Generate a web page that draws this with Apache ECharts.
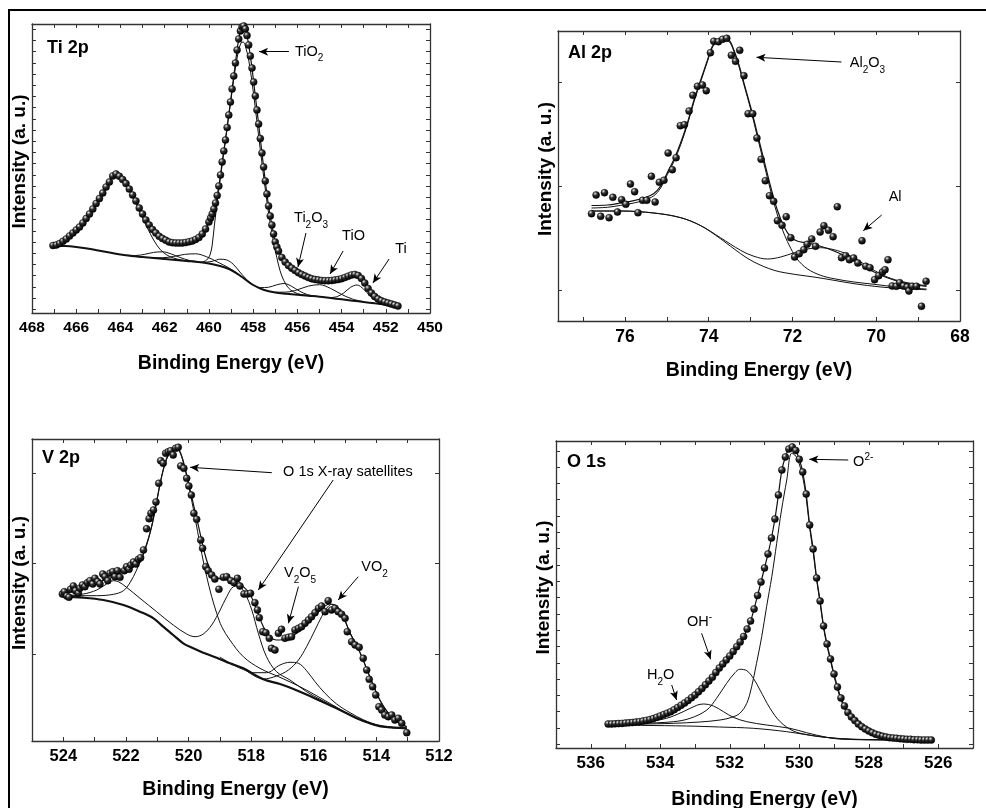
<!DOCTYPE html>
<html><head><meta charset="utf-8">
<script src="https://cdn.jsdelivr.net/npm/echarts@6/dist/echarts.min.js"></script>
<style>html,body{margin:0;padding:0;background:#fff}#c{width:986px;height:808px}</style>
</head><body><div id="c"></div>
<script>
// ---------- Ti 2p (binding energy eV, intensity a.u.) ----------
const tiPoints = [[467.05,67.5],[466.90,68],[466.75,69.5],[466.60,71.7],[466.45,74],[466.30,77],[466.15,80],[466.00,83],[465.85,86],[465.70,90],[465.55,94.5],[465.40,99],[465.25,104],[465.10,109.5],[464.95,114.5],[464.80,120],[464.65,126],[464.50,131],[464.35,137],[464.20,139],[464.05,136.7],[463.90,133.5],[463.75,129.5],[463.60,124],[463.45,118],[463.30,112],[463.15,105],[463.00,99],[462.85,93],[462.70,88],[462.55,83.5],[462.40,80],[462.25,76.7],[462.10,74.5],[461.95,72.8],[461.80,71],[461.65,70.3],[461.50,70],[461.35,70],[461.20,70],[461.05,70.5],[460.90,71.2],[460.75,72],[460.60,73.5],[460.45,75.5],[460.30,79],[460.15,84],[460.00,91],[459.925,95],[459.85,99],[459.775,104],[459.70,110],[459.625,117.5],[459.55,127],[459.475,138],[459.40,151],[459.325,162],[459.25,173],[459.175,185.5],[459.10,198],[459.025,211],[458.95,224],[458.875,237],[458.80,250],[458.725,263],[458.65,274],[458.575,282],[458.50,286],[458.425,287],[458.35,284],[458.275,277.5],[458.20,268],[458.125,257],[458.05,245],[457.975,231],[457.90,217],[457.825,203],[457.75,189],[457.675,174.5],[457.60,160],[457.525,146],[457.45,132],[457.375,119],[457.30,107],[457.225,97],[457.15,88],[457.075,79],[457.00,71],[456.925,66],[456.85,62],[456.70,55.5],[456.55,51],[456.40,47.5],[456.25,44.8],[456.10,42.5],[455.95,40.3],[455.80,38.5],[455.65,37],[455.50,35.5],[455.35,34.3],[455.20,33.5],[455.05,33],[454.90,32.5],[454.75,32.3],[454.60,32.3],[454.45,32.5],[454.30,33],[454.15,33.5],[454.00,34.3],[453.85,35.5],[453.70,36.8],[453.55,38],[453.40,38.5],[453.25,37.5],[453.10,34.5],[452.95,30],[452.80,24.5],[452.65,20],[452.50,16.5],[452.35,14],[452.20,12.2],[452.05,11],[451.90,10],[451.75,9],[451.60,8],[451.45,7]];
const tiBackground = [[467.07,67.3],[466.5,67],[466,66],[465.5,64.5],[465,62.5],[464.5,60.5],[464,58.5],[463.5,57],[463,56],[462.5,55],[462,54],[461.5,53],[461,52],[460.5,51],[460,49.5],[459.5,47],[459,43],[458.5,36],[458,28],[457.5,23],[457,20.5],[456.5,19.3],[456,18.3],[455.5,17.3],[455,16.3],[454.5,15],[454,13.7],[453.5,12.3],[453,11],[452.5,9.7],[452,8.5],[451.45,7]];
const tiTiO2_32 = [[460.3,51],[460.1,53],[459.95,58],[459.85,68],[459.75,88],[459.6,115],[459.45,140],[459.3,165],[459.15,190],[459.0,214],[458.85,238],[458.7,258],[458.55,270],[458.45,271],[458.35,267],[458.2,253],[458.05,231],[457.9,205],[457.75,177],[457.6,150],[457.45,124],[457.3,100],[457.15,80],[457.0,63],[456.85,48],[456.7,37],[456.5,28],[456.3,23],[456.0,19.5],[455.7,18],[455.3,17]];
const tiTiO2_12 = [[467.07,67.3],[466.6,71.5],[466.2,79],[465.8,87.5],[465.4,98.5],[465.0,112],[464.6,126],[464.3,137],[464.0,135.5],[463.7,127],[463.4,114],[463.1,100],[462.8,86],[462.5,73],[462.2,63.5],[461.9,58],[461.6,55],[461.2,52.8],[460.8,51.5],[460.4,50.6]];
const tiTi2O3_12 = [[463.7,57.8],[463.3,57.5],[462.9,58.7],[462.5,60.6],[462.1,61.2],[461.7,59],[461.3,55.5],[460.9,52.7],[460.5,51.2]];
const tiTiO_12 = [[462.6,55.3],[462.1,55.3],[461.6,56.5],[461.1,58.6],[460.6,59.2],[460.1,56.2],[459.6,50.9],[459.1,45.1],[458.6,37.7]];
const tiTi_12 = [[460.4,51],[460.1,50.9],[459.8,52],[459.5,53.8],[459.2,53.1],[458.9,48.8],[458.6,41],[458.3,33.6],[458.0,28.2]];
const tiTi2O3_32 = [[458.0,28.2],[457.65,25.4],[457.3,25.75],[456.95,28.1],[456.6,29.5],[456.25,26.6],[455.9,21.85],[455.55,18.5],[455.2,17]];
const tiTiO_32 = [[457.0,20.8],[456.5,20.9],[456.0,23.2],[455.5,26.9],[455.0,28.3],[454.5,24.6],[454.0,18.6],[453.5,13.9],[453.0,11.3]];
const tiTi_32 = [[454.5,15.4],[454.2,16.4],[453.9,20.1],[453.6,25.6],[453.3,28],[453.0,23.8],[452.7,16.8],[452.4,11.7],[452.1,9.1]];

// ---------- Al 2p ----------
const alPoints = [[76.80,107.3],[76.69,126],[76.58,104.7],[76.49,128.3],[76.38,103.3],[76.29,123.7],[76.18,109],[76.08,121.3],[75.98,116.7],[75.87,137],[75.77,129.3],[75.69,108.3],[75.58,120.7],[75.48,120.7],[75.37,144.7],[75.28,119],[75.18,138.7],[75.07,140.7],[74.97,168],[74.87,151.3],[74.78,163.3],[74.68,195.3],[74.58,196.3],[74.47,210],[74.38,225.7],[74.27,234.7],[74.15,236],[74.06,230.3],[73.96,268.3],[73.88,279.7],[73.77,279.3],[73.67,281.7],[73.57,282.7],[73.46,265.7],[73.36,259.7],[73.26,270.7],[73.16,245.3],[73.06,207.3],[72.95,207.3],[72.85,183],[72.75,161.7],[72.65,140.3],[72.55,125.3],[72.45,119.7],[72.36,100.3],[72.25,95.7],[72.15,104.3],[72.04,83.3],[71.95,64],[71.84,67.3],[71.73,71.3],[71.65,76.7],[71.54,82],[71.45,74.7],[71.34,89],[71.25,95.3],[71.14,90.7],[71.03,84.3],[70.93,114.3],[70.83,63.3],[70.73,65.3],[70.64,61.3],[70.54,63],[70.44,58],[70.34,80.3],[70.25,54.7],[70.15,53.3],[70.04,41.3],[69.94,45.3],[69.85,49],[69.79,51.3],[69.72,61.3],[69.62,35],[69.52,34.7],[69.44,38.3],[69.35,35],[69.26,34],[69.22,30],[69.14,34.7],[69.04,34.7],[68.92,14.7],[68.81,39.7]];
const alFit = [[76.80,115.5],[76.42,116],[76.10,118],[75.79,120.3],[75.55,123],[75.31,127.5],[75.15,135],[74.99,148.3],[74.83,161.7],[74.67,178.3],[74.51,198],[74.35,221.3],[74.19,241.3],[74.03,261],[73.92,274.3],[73.80,280.3],[73.64,282],[73.52,281],[73.40,271],[73.28,256.3],[73.16,238],[73.00,214],[72.84,187.3],[72.68,160.7],[72.52,134],[72.36,110.7],[72.20,94],[72.04,84],[71.89,80],[71.65,78],[71.33,74.7],[71.01,70],[70.69,64],[70.37,56.7],[70.05,49],[69.74,43.3],[69.34,38],[68.80,34.7]];
const alOxide = [[76.80,113],[76.42,113.7],[76.10,115.7],[75.79,118],[75.55,120.7],[75.31,125.3],[75.15,133],[74.99,146.3],[74.83,159.7],[74.67,176.3],[74.51,196.3],[74.35,219.7],[74.19,239.7],[74.03,259.7],[73.92,273],[73.80,279],[73.64,280.7],[73.52,279.7],[73.40,269.7],[73.28,254.7],[73.16,236.3],[73.00,212],[72.84,184.5],[72.68,157],[72.52,130],[72.36,106],[72.20,87],[72.04,72.5],[71.89,62],[71.65,52.3],[71.33,45.7],[71.01,42.3],[70.53,39],[70.05,36.7],[69.50,34],[68.80,32]];
const alMetal = [[76.80,110],[76.10,110],[75.31,108],[74.67,103.3],[74.19,95.3],[73.72,83.3],[73.24,70.7],[72.92,64.7],[72.60,62],[72.28,64],[71.96,68.3],[71.65,72],[71.33,73.3],[71.01,71.3],[70.69,66.7],[70.37,59],[70.05,50.7],[69.74,44],[69.34,39],[68.80,35.3]];
const alBackground = [[76.80,110],[76.10,110],[75.31,108],[74.67,103.3],[74.19,95.3],[73.72,82.3],[73.24,67.3],[72.92,59],[72.44,50.7],[71.96,46.7],[71.49,44],[71.01,40.7],[70.53,37.3],[69.89,34],[69.34,32.3],[68.80,31.3]];

// ---------- V 2p ----------
const vPoints = [[524.03,147],[523.97,149.3],[523.89,145],[523.82,143.7],[523.77,151.7],[523.68,155],[523.61,150.3],[523.52,147.7],[523.47,152.7],[523.39,156],[523.31,154.3],[523.23,158.3],[523.15,160.3],[523.06,157],[522.99,162.7],[522.90,159.3],[522.83,157],[522.74,167],[522.67,164.3],[522.58,160.3],[522.51,167.7],[522.42,169.3],[522.35,164.3],[522.27,170.3],[522.19,163.7],[522.05,170.3],[521.98,174.3],[521.90,171.7],[521.84,176],[521.76,179],[521.68,177],[521.60,181.7],[521.53,183.3],[521.44,191],[521.34,212.3],[521.26,222.3],[521.20,227.7],[521.12,231],[521.04,239],[520.95,257.7],[520.89,280.3],[520.81,277.7],[520.73,287.7],[520.65,289.3],[520.57,290.3],[520.49,286],[520.41,292.7],[520.33,293.7],[520.25,275],[520.15,272.7],[520.06,262.7],[519.99,255],[519.91,246],[519.83,227.7],[519.74,221.7],[519.61,201],[519.55,192.7],[519.45,174.3],[519.37,170.3],[519.26,166],[519.16,162],[519.03,151.7],[518.89,163.7],[518.78,164.3],[518.65,160.3],[518.54,158.3],[518.44,162.7],[518.36,155],[518.23,147],[518.12,147],[518.02,147.7],[517.88,138.3],[517.80,131],[517.74,123.3],[517.63,109.3],[517.53,108.3],[517.42,102.7],[517.35,92.7],[517.24,91],[517.13,107.7],[517.03,111.7],[516.92,102.7],[516.81,103.7],[516.71,104.3],[516.60,111],[516.49,112.7],[516.39,114.3],[516.28,117.7],[516.17,121],[516.07,124.3],[515.96,128.3],[515.85,132.7],[515.75,135],[515.64,129.3],[515.54,140.3],[515.43,131],[515.32,132.7],[515.22,129.3],[515.11,126.7],[515.00,122.7],[514.93,109.3],[514.79,99.3],[514.68,96],[514.55,93.7],[514.42,82.7],[514.31,71],[514.23,61.7],[514.12,54.3],[514.02,46],[513.92,34.3],[513.83,31],[513.73,26],[513.62,24.3],[513.51,26],[513.41,21],[513.30,22.7],[513.19,17.7],[513.03,8.3]];
const vFit = [[524.03,147],[523.47,151.7],[522.93,158.3],[522.40,164.3],[521.87,172.7],[521.55,180.3],[521.34,196],[521.18,214.3],[521.02,239.3],[520.86,264.3],[520.70,282.7],[520.54,291],[520.41,293.7],[520.27,289.3],[520.11,272.7],[519.95,251],[519.79,229.3],[519.63,207.7],[519.47,186],[519.31,171],[519.16,164.3],[518.78,161],[518.46,160.3],[518.25,154.3],[518.04,147],[517.82,131],[517.61,114.3],[517.40,104.3],[517.19,101],[516.87,102.3],[516.44,110],[516.01,123.7],[515.70,133.7],[515.48,137],[515.27,134.3],[515.06,124.3],[514.84,107.7],[514.52,88.3],[514.21,64.3],[513.89,41],[513.57,26],[513.25,17.7],[513.03,14.3]];
const vSatMain = [[524.03,144.5],[523.68,145.3],[522.93,145.3],[522.40,146.7],[522.08,150.3],[521.87,158.3],[521.66,171],[521.44,187.7],[521.18,214.3],[521.02,239.3],[520.86,264.3],[520.70,281.7],[520.54,290.3],[520.41,292.7],[520.27,288.3],[520.13,274.3],[519.99,254.3],[519.85,232.7],[519.71,209.3],[519.58,187.7],[519.42,164.3],[519.26,144.3],[519.10,127.7],[518.94,114.3],[518.68,101],[518.25,84.3],[517.72,72.7],[517.08,63.7],[516.44,54.3],[515.80,43.3],[515.16,31.7],[514.63,22.7],[514.21,17.7],[513.78,14.3],[513.03,12.7]];
const vSatSecond = [[524.03,145.3],[523.36,147],[522.93,151],[522.62,157],[522.40,160.3],[522.24,159.3],[521.98,153.7],[521.55,142.7],[521.02,129.3],[520.49,116],[520.06,107],[519.79,104.3],[519.53,107],[519.26,116],[518.99,131],[518.78,144.3],[518.57,154.3],[518.41,155],[518.20,147.7],[517.98,131],[517.77,107.7],[517.51,84.3],[517.19,69.3],[516.76,61],[516.23,49.3],[515.80,41.7],[515.16,31],[514.63,22.7],[514.21,17.7],[513.78,14.3],[513.03,12.7]];
const vV2O5 = [[519.00,84],[518.57,76],[518.25,71.5],[517.93,68.3],[517.51,68.3],[517.08,76],[516.76,78.7],[516.49,77.7],[516.23,70.3],[515.96,59.3],[515.64,47.7],[515.27,37],[514.84,28.3],[514.40,21],[513.90,15.5],[513.03,12.7]];
const vVO2 = [[518.25,72.7],[517.61,62],[517.19,65],[516.81,71],[516.49,81],[516.23,94.3],[515.96,111],[515.75,124.3],[515.59,132.7],[515.43,136.7],[515.27,135],[515.06,125],[514.84,108.3],[514.52,88.3],[514.21,64.3],[513.89,41],[513.57,26],[513.25,17.7],[513.03,14.3]];
const vBackground = [[524.03,144.3],[523.36,143.3],[522.72,141],[522.08,136],[521.55,129.3],[521.12,122.7],[520.81,114.3],[520.49,106],[520.17,97.7],[519.85,92.7],[519.53,88.3],[519.10,83.3],[518.68,77.7],[518.25,72.7],[517.61,61.7],[517.08,57],[516.44,49.3],[515.80,40.3],[515.16,31],[514.63,22.7],[514.21,17.7],[513.78,14.3],[513.03,12.7]];

// ---------- O 1s ----------
const oPoints = [[535.5,24],[535.4,24],[535.3,24.2],[535.2,24.4],[535.1,24.6],[535.0,24.9],[534.9,25.2],[534.8,25.5],[534.7,25.9],[534.6,26.3],[534.5,26.9],[534.4,27.6],[534.3,28.4],[534.2,29.4],[534.1,30.7],[534.0,32],[533.9,33.4],[533.8,34.8],[533.7,36.3],[533.6,38.3],[533.5,40.5],[533.4,42.7],[533.3,45],[533.2,47.5],[533.1,50.3],[533.0,53],[532.9,56.2],[532.8,59.5],[532.7,63.2],[532.6,67],[532.5,70.8],[532.4,75.5],[532.3,80],[532.2,84],[532.1,88],[532.0,92],[531.9,96.5],[531.8,101.3],[531.7,106],[531.6,111.5],[531.5,119],[531.4,127],[531.3,139],[531.2,152.5],[531.1,166],[531.0,180],[530.9,194],[530.8,210],[530.7,229],[530.6,253],[530.5,278],[530.4,291],[530.3,299],[530.2,301],[530.1,297.5],[530.0,288.7],[529.9,276],[529.8,254],[529.7,223],[529.6,199],[529.5,170],[529.4,147],[529.3,122],[529.2,104],[529.1,89],[529.0,74],[528.9,61],[528.8,50],[528.7,42],[528.6,35.5],[528.5,31],[528.4,27.5],[528.3,24],[528.2,21.3],[528.1,19],[528.0,17],[527.9,15.3],[527.8,13.7],[527.7,12.7],[527.6,11.7],[527.5,11],[527.4,10.3],[527.3,10],[527.2,9.7],[527.1,9.3],[527.0,9],[526.9,8.7],[526.8,8.7],[526.7,8.3],[526.6,8.3],[526.5,8],[526.4,8],[526.3,8],[526.2,8]];
const oO2 = [[535.49,24],[534.58,24],[533.62,24.7],[532.86,26],[532.28,28],[531.94,30.7],[531.71,34.7],[531.51,44.7],[531.37,61.3],[531.23,84.7],[531.08,111.3],[530.94,141.3],[530.79,171.3],[530.65,204.7],[530.51,238],[530.36,268],[530.22,294.7],[530.1,292],[530.0,284],[529.9,271],[529.8,250],[529.7,220],[529.6,196],[529.5,168],[529.4,145],[529.3,120],[529.2,102],[529.1,87],[529.0,72],[528.9,59],[528.8,48],[528.7,40],[528.6,33.5],[528.5,29],[528.3,22],[528.0,15.5],[527.5,10],[527.0,8.5],[526.2,8]];
const oOH = [[535.49,24],[534.58,24.7],[533.62,26.3],[533.14,29.7],[532.66,38],[532.38,49.7],[532.09,64.7],[531.85,75.3],[531.71,78.7],[531.51,77.3],[531.32,69.7],[531.13,58],[530.84,39.7],[530.55,26.3],[530.17,17],[529.79,13.5],[529.21,10.5],[528.5,8.8],[526.2,8]];
const oH2O = [[535.49,24],[534.58,25.3],[533.82,29.7],[533.34,36.3],[532.95,42.7],[532.76,44],[532.47,42],[532.18,36.3],[531.90,30.7],[531.51,26.3],[530.94,23],[530.27,19.7],[529.79,15.3],[529.21,10.7],[528.83,8.9],[528.0,8.2],[526.2,8]];
const oBackground = [[535.52,23],[534.5,22.6],[533.24,22],[532.3,21],[531.32,19.7],[530.36,16.3],[529.40,11.3],[528.44,8.7],[527.5,8.1],[526.16,8]];

// ---------- text ----------
const panelTags = ['Ti 2p', 'Al 2p', 'V 2p', 'O 1s'];
const xTitle = 'Binding Energy (eV)';
const yTitle = 'Intensity (a. u.)';

// ---------- layout / style ----------
const F = '"Liberation Sans", Arial, Helvetica, sans-serif';
const INK = '#000';
const BALL = {type:'radial', x:0.36, y:0.3, r:0.68, colorStops:[
  {offset:0, color:'#f2f2f2'},{offset:0.14, color:'#a8a8a8'},{offset:0.42, color:'#2e2e2e'},{offset:1, color:'#000'}]};
const RICH = {
  n:{fontSize:14.5, fontFamily:F, color:INK, opacity:1, lineHeight:18},
  s:{fontSize:10, fontFamily:F, color:INK, opacity:1, padding:[14,0,0,0], lineHeight:24},
  p:{fontSize:10, fontFamily:F, color:INK, opacity:1, padding:[0,0,9,0], lineHeight:19},
  t:{fontSize:18, fontFamily:F, fontWeight:'bold', color:INK, opacity:1, lineHeight:20}
};
const panels = [
  {grid:{left:32, top:24, width:398, height:289}, xmin:450, xmax:468, ymax:289, tick:[-1.34,24.46,26], tickFont:15.5, nameGap:41},
  {grid:{left:558, top:31, width:402, height:290}, xmin:68, xmax:77.6, ymax:290, tick:[-0.298,2.49,3], tickFont:17.5, nameGap:40},
  {grid:{left:32, top:439, width:407, height:302}, xmin:512, xmax:525, ymax:302, tick:[-0.963,2.38,3], tickFont:16.5, nameGap:39},
  {grid:{left:556, top:441, width:417, height:307}, xmin:525, xmax:537, ymax:307, tick:[-0.227,18.6,19], tickFont:17, nameGap:42}
];

const xAxes = [], yAxes = [], grids = [];
panels.forEach((p, i) => {
  grids.push(Object.assign({containLabel:false, outerBoundsMode:'none'}, p.grid));
  const axLine = {show:true, onZero:false, lineStyle:{color:'#333', width:1.3}};
  const tick = {show:true, inside:true, length:4, lineStyle:{color:'#333', width:1}};
  xAxes.push({gridIndex:i, type:'value', position:'bottom', min:p.xmin, max:p.xmax, inverse:true, interval:1,
    axisLine:axLine, axisTick:tick, splitLine:{show:false},
    axisLabel:{show:true, margin:7, fontSize:p.tickFont, fontWeight:'bold', fontFamily:F, color:INK,
      formatter:v => (Math.abs(v - Math.round(v)) < 1e-6 && Math.round(v) % 2 === 0) ? String(Math.round(v)) : ''},
    name:xTitle, nameLocation:'middle', nameGap:p.nameGap,
    nameTextStyle:{fontSize:19.5, fontWeight:'bold', fontFamily:F, color:INK}});
  xAxes.push({gridIndex:i, type:'value', position:'top', min:p.xmin, max:p.xmax, inverse:true, interval:1,
    axisLine:axLine, axisTick:tick, axisLabel:{show:false}, splitLine:{show:false}});
  yAxes.push({gridIndex:i, type:'value', position:'left', min:p.tick[0], max:p.tick[1], splitNumber:p.tick[2],
    axisLine:axLine, axisTick:tick, axisLabel:{show:false}, splitLine:{show:false},
    name:yTitle, nameLocation:'middle', nameGap:3,
    nameTextStyle:{fontSize:19, fontWeight:'bold', fontFamily:F, color:INK, padding:[0,0,0,14]}});
  yAxes.push({gridIndex:i, type:'value', position:'right', min:p.tick[0], max:p.tick[1], splitNumber:p.tick[2],
    axisLine:axLine, axisTick:tick, axisLabel:{show:false}, splitLine:{show:false}});
  yAxes.push({gridIndex:i, type:'value', position:'left', min:0, max:p.ymax, show:false});
});

function curve(gi, data, w) {
  return {type:'line', xAxisIndex:2*gi, yAxisIndex:3*gi+2, data:data, smooth:0.35, symbol:'none', showSymbol:false,
    lineStyle:{color:'#111', width:w || 1, opacity:1}, silent:true, z:2, animation:false};
}
function dots(gi, data, size) {
  return {type:'scatter', xAxisIndex:2*gi, yAxisIndex:3*gi+2, data:data, symbolSize:size,
    itemStyle:{color:BALL, borderColor:'#000', borderWidth:0.5, opacity:1}, silent:true, z:3, animation:false};
}
function notes(gi, items, arrows) {
  return {type:'scatter', xAxisIndex:2*gi, yAxisIndex:3*gi+2, symbolSize:0.01, z:5, silent:true, animation:false,
    itemStyle:{color:'#000', opacity:1},
    data:items.map(it => ({value:it.at, label:{show:true, position:'inside', formatter:it.text, color:INK, opacity:1,
      textBorderWidth:0, align:it.align || 'center', verticalAlign:'middle', rich:RICH}})),
    markLine:{silent:true, animation:false, symbol:['none','arrow'], symbolSize:[6,9], precision:4,
      label:{show:false}, emphasis:{disabled:true}, itemStyle:{color:'#000', opacity:1},
      lineStyle:{color:'#000', width:1, type:'solid', opacity:1},
      data:arrows.map(a => [{coord:a[0]}, {coord:a[1]}])}};
}

const series = [
  // Ti 2p
  curve(0, tiBackground, 2), curve(0, tiTiO2_32), curve(0, tiTiO2_12), curve(0, tiTi2O3_12), curve(0, tiTiO_12),
  curve(0, tiTi_12), curve(0, tiTi2O3_32), curve(0, tiTiO_32), curve(0, tiTi_32), curve(0, tiPoints, 1.2),
  dots(0, tiPoints, 7),
  notes(0, [
    {at:[467.32,265], text:'{t|' + panelTags[0] + '}', align:'left'},
    {at:[456.11,261.3], text:'{n|TiO}{s|2}', align:'left'},
    {at:[455.38,95], text:'{n|Ti}{s|2}{n|O}{s|3}'},
    {at:[453.46,77], text:'{n|TiO}'},
    {at:[451.31,64], text:'{n|Ti}'}
  ], [[[456.38,261.3],[457.73,261.3]], [[455.61,80],[455.97,46]], [[453.93,62],[454.52,39]], [[451.85,54],[452.58,30]]]),
  // Al 2p
  curve(1, alBackground), curve(1, alMetal), curve(1, alOxide), curve(1, alFit, 1.2),
  dots(1, alPoints, 7),
  notes(1, [
    {at:[77.36,268.3], text:'{t|' + panelTags[1] + '}', align:'left'},
    {at:[70.63,258], text:'{n|Al}{s|2}{n|O}{s|3}', align:'left'},
    {at:[69.55,124], text:'{n|Al}'}
  ], [[[70.83,259],[72.86,263.7]], [[69.87,106],[70.31,90.3]]]),
  // V 2p
  curve(2, vBackground, 2.2), curve(2, vSatMain), curve(2, vSatSecond), curve(2, vV2O5), curve(2, vVO2), curve(2, vFit, 1.2),
  dots(2, vPoints, 7),
  notes(2, [
    {at:[524.68,283], text:'{t|' + panelTags[2] + '}', align:'left'},
    {at:[516.98,269], text:'{n|O 1s X-ray satellites}', align:'left'},
    {at:[516.44,168], text:'{n|V}{s|2}{n|O}{s|5}'},
    {at:[514.06,174], text:'{n|VO}{s|2}'}
  ], [[[517.34,268.3],[519.95,273.7]], [[515.38,261],[517.77,151]], [[516.49,154.3],[516.81,117.7]], [[514.58,164.3],[515.22,141]]]),
  // O 1s
  curve(3, oBackground), curve(3, oH2O), curve(3, oOH), curve(3, oO2), curve(3, oPoints, 1.2),
  dots(3, oPoints, 7),
  notes(3, [
    {at:[536.68,286], text:'{t|' + panelTags[3] + '}', align:'left'},
    {at:[528.45,286], text:'{n|O}{p|2-}', align:'left'},
    {at:[533.23,126], text:'{n|OH}{p|-}', align:'left'},
    {at:[534.38,73], text:'{n|H}{s|2}{n|O}', align:'left'}
  ], [[[528.59,288],[529.71,288.7]], [[532.81,114.7],[532.55,88.7]], [[533.67,63],[533.53,48]]])
];

const chart = echarts.init(document.getElementById('c'), null, {renderer:'canvas'});
chart.setOption({
  backgroundColor:'#fff',
  animation:false,
  textStyle:{fontFamily:F},
  grid:grids, xAxis:xAxes, yAxis:yAxes, series:series,
  graphic:[
    {type:'line', silent:true, shape:{x1:9, y1:10, x2:986, y2:10}, style:{stroke:'#000', lineWidth:2}},
    {type:'line', silent:true, shape:{x1:9, y1:9, x2:9, y2:808}, style:{stroke:'#000', lineWidth:2}}
  ]
});
</script></body></html>
